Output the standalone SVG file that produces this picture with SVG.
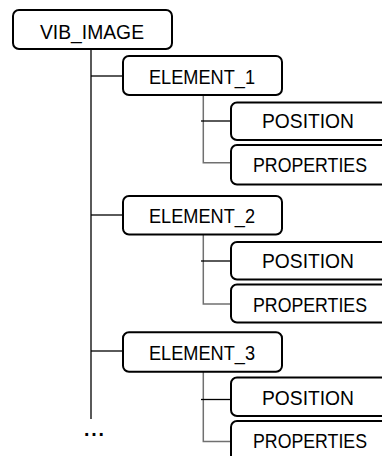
<svg xmlns="http://www.w3.org/2000/svg" width="382" height="456" viewBox="0 0 382 456">
<style>
.box{fill:#fff;stroke:#000;stroke-width:2}
.t{font-family:"Liberation Sans",Arial,sans-serif;font-size:19.5px;fill:#000;text-anchor:middle}
.blk{stroke:#000;stroke-width:1.3;fill:none}
.gry{stroke:#707070;stroke-width:1.5;fill:none}
</style>
<rect width="382" height="456" fill="#fff"/>
<g id="connectors">
<line class="blk" x1="91" y1="49" x2="91" y2="419"/>
<line class="blk" x1="91" y1="76" x2="123" y2="76"/>
<line class="blk" x1="91" y1="215" x2="123" y2="215"/>
<line class="blk" x1="91" y1="351" x2="123" y2="351"/>
<path class="gry" d="M203.3 95 V162.7 H231"/>
<line class="blk" x1="201" y1="121" x2="231" y2="121"/>
<path class="gry" d="M203.3 234 V304 H231"/>
<line class="blk" x1="201" y1="261" x2="231" y2="261"/>
<path class="gry" d="M203.3 372 V441.5 H231"/>
<line class="blk" x1="201" y1="399.5" x2="231" y2="399.5"/>
</g>
<g id="vib_image">
<rect class="box" x="13" y="10" width="159" height="39" rx="6"/>
<text class="t" x="92" y="38.5" font-size="20" textLength="104" lengthAdjust="spacingAndGlyphs">VIB_IMAGE</text>
</g>
<g id="element_1">
<rect class="box" x="123" y="56" width="159" height="39" rx="6"/>
<text class="t" x="202" y="83.5" textLength="106" lengthAdjust="spacingAndGlyphs">ELEMENT_1</text>
</g>
<g id="position_1">
<rect class="box" x="231" y="102.5" width="165" height="37.5" rx="6"/>
<text class="t" x="308" y="128" textLength="92" lengthAdjust="spacingAndGlyphs">POSITION</text>
</g>
<g id="properties_1">
<rect class="box" x="231" y="145" width="165" height="39.5" rx="6"/>
<text class="t" x="310" y="172" textLength="114" lengthAdjust="spacingAndGlyphs">PROPERTIES</text>
</g>
<g id="element_2">
<rect class="box" x="123" y="196" width="159" height="38.5" rx="6"/>
<text class="t" x="202" y="223.3" textLength="106" lengthAdjust="spacingAndGlyphs">ELEMENT_2</text>
</g>
<g id="position_2">
<rect class="box" x="231" y="242" width="165" height="37.5" rx="6"/>
<text class="t" x="308" y="267.5" textLength="92" lengthAdjust="spacingAndGlyphs">POSITION</text>
</g>
<g id="properties_2">
<rect class="box" x="231" y="284.5" width="165" height="38" rx="6"/>
<text class="t" x="310" y="311.5" textLength="114" lengthAdjust="spacingAndGlyphs">PROPERTIES</text>
</g>
<g id="element_3">
<rect class="box" x="123" y="332.3" width="159" height="39.5" rx="6"/>
<text class="t" x="202" y="359.5" textLength="106" lengthAdjust="spacingAndGlyphs">ELEMENT_3</text>
</g>
<g id="position_3">
<rect class="box" x="231" y="377.5" width="165" height="38.5" rx="6"/>
<text class="t" x="308" y="405" textLength="92" lengthAdjust="spacingAndGlyphs">POSITION</text>
</g>
<g id="properties_3">
<rect class="box" x="231" y="421" width="165" height="40" rx="6"/>
<text class="t" x="310" y="448" textLength="114" lengthAdjust="spacingAndGlyphs">PROPERTIES</text>
</g>
<g id="ellipsis">
<text class="t" x="94" y="435.5" font-weight="bold" font-size="18" textLength="20" lengthAdjust="spacing">...</text>
</g>
</svg>
